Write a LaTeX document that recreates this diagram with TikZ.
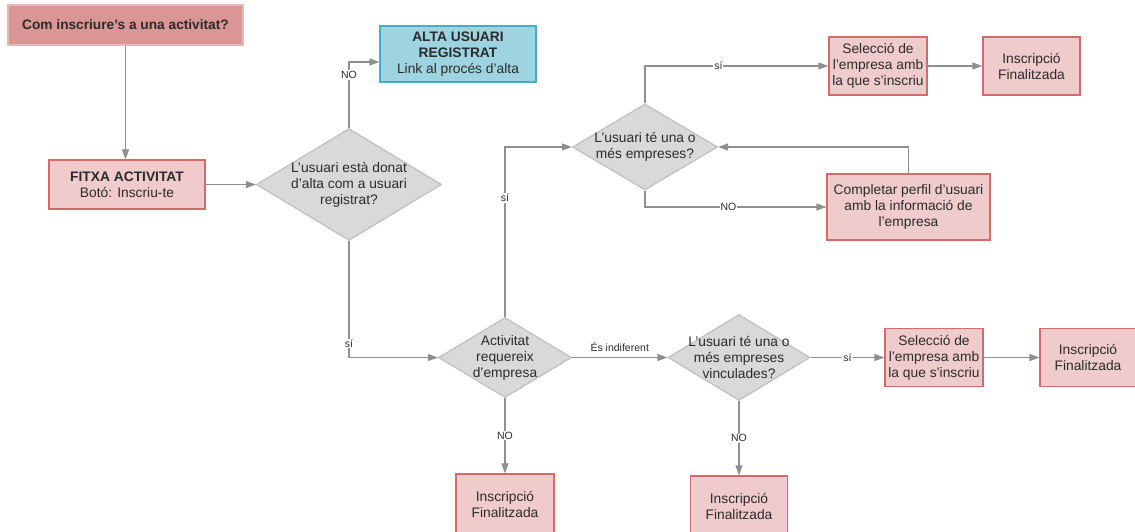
\documentclass[tikz,border=0pt]{standalone}
\usepackage{fontspec}
\setmainfont{Liberation Sans}
\usetikzlibrary{shapes.geometric,arrows.meta}
\definecolor{titolfons}{HTML}{D99694}
\definecolor{titolvora}{HTML}{E6B9B8}
\definecolor{rosafons}{HTML}{F0CBCB}
\definecolor{rosavora}{HTML}{D56B69}
\definecolor{grisfons}{HTML}{D9D9D9}
\definecolor{grisvora}{HTML}{BFBFBF}
\definecolor{blaufons}{HTML}{9ED3E0}
\definecolor{blauvora}{HTML}{4BACC6}
\definecolor{linia}{HTML}{8F8F8F}
\definecolor{lletra}{HTML}{2B2B2B}
\begin{document}
\begin{tikzpicture}[x=1pt,y=-1pt,
    every node/.style={text=lletra,font=\fontsize{13.8}{16}\selectfont,align=center},
    titol/.style={rectangle,draw=titolvora,fill=titolfons,line width=1.2pt,inner sep=0pt,font=\fontsize{13.7}{16}\selectfont\bfseries},
    proces/.style={rectangle,draw=rosavora,fill=rosafons,line width=1.2pt,inner sep=0pt},
    alta/.style={rectangle,draw=blauvora,fill=blaufons,line width=1.2pt,inner sep=0pt},
    decisio/.style={diamond,draw=grisvora,fill=grisfons,line width=1.2pt,inner sep=-15pt},
    enllac/.style={draw=linia,line width=1.2pt,-{Triangle[length=10pt,width=7pt]}},
    etiq/.style={fill=white,inner sep=1pt,font=\fontsize{10.5}{12}\selectfont},
  ]
  \useasboundingbox (0,0) rectangle (1135,531);
  \clip (0,0) rectangle (1135,531);
  \node[titol,minimum width=235,minimum height=40] (inici) at (125.5,25) {Com inscriure’s a una activitat?};
  \node[proces,minimum width=156,minimum height=49] (fitxa) at (127,184.5) {\textbf{FITXA ACTIVITAT}\\Botó: Inscriu-te};
  \node[alta,minimum width=156,minimum height=56] (registre) at (458,54) {\textbf{ALTA USUARI}\\\textbf{REGISTRAT}\\Link al procés d’alta};
  \node[decisio,minimum width=185,minimum height=112,shape aspect=1.65] (registrat) at (349,184.5) {L’usuari està donat\\d’alta com a usuari\\registrat?};
  \node[decisio,minimum width=133,minimum height=80,shape aspect=1.66] (requereix) at (505,357.5) {Activitat\\requereix\\d’empresa};
  \node[decisio,minimum width=145,minimum height=86,shape aspect=1.69] (empreses) at (645,147) {L’usuari té una o\\més empreses?};
  \node[decisio,minimum width=142,minimum height=86,shape aspect=1.65] (vinculades) at (739,357.5) {L’usuari té una o\\més empreses\\vinculades?};
  \node[proces,minimum width=98,minimum height=58] (seleccioA) at (878,66) {Selecció de\\l’empresa amb\\la que s’inscriu};
  \node[proces,minimum width=97,minimum height=58] (finalA) at (1031.5,66) {Inscripció\\Finalitzada};
  \node[proces,minimum width=163,minimum height=66] (perfil) at (908.5,207) {Completar perfil d’usuari\\amb la informació de\\l’empresa};
  \node[proces,minimum width=98,minimum height=58] (seleccioB) at (934,357.5) {Selecció de\\l’empresa amb\\la que s’inscriu};
  \node[proces,minimum width=96,minimum height=58] (finalB) at (1088,357.5) {Inscripció\\Finalitzada};
  \node[proces,minimum width=98,minimum height=60] (finalC) at (505,504) {Inscripció\\Finalitzada};
  \node[proces,minimum width=97,minimum height=60] (finalD) at (739,506) {Inscripció\\Finalitzada};
  \draw[enllac] (inici.south) -- (inici.south |- fitxa.north);
  \draw[enllac] (fitxa.east) -- (registrat.west);
  \draw[enllac] (registrat.north) |- ([yshift=-8pt]registre.west) node[etiq,pos=0.4] {NO};
  \draw[enllac] (registrat.south) |- (requereix.west) node[etiq,pos=0.44] {sí};
  \draw[enllac] (requereix.north) |- (empreses.west) node[etiq,pos=0.35] {sí};
  \draw[enllac] (empreses.north) |- (seleccioA.west) node[etiq,pos=0.7] {sí};
  \draw[enllac] (seleccioA.east) -- (finalA.west);
  \draw[enllac] (empreses.south) |- (perfil.west) node[etiq,pos=0.73] {NO};
  \draw[enllac] (perfil.north) |- (empreses.east);
  \draw[enllac] (requereix.east) -- (vinculades.west) node[pos=0.5,above=2pt,font=\fontsize{10.5}{12}\selectfont] {És indiferent};
  \draw[enllac] (vinculades.east) -- (seleccioB.west) node[etiq,pos=0.5] {sí};
  \draw[enllac] (seleccioB.east) -- (finalB.west);
  \draw[enllac] (requereix.south) -- (finalC.north) node[etiq,pos=0.5] {NO};
  \draw[enllac] (vinculades.south) -- (finalD.north) node[etiq,pos=0.5] {NO};
\end{tikzpicture}
\end{document}
